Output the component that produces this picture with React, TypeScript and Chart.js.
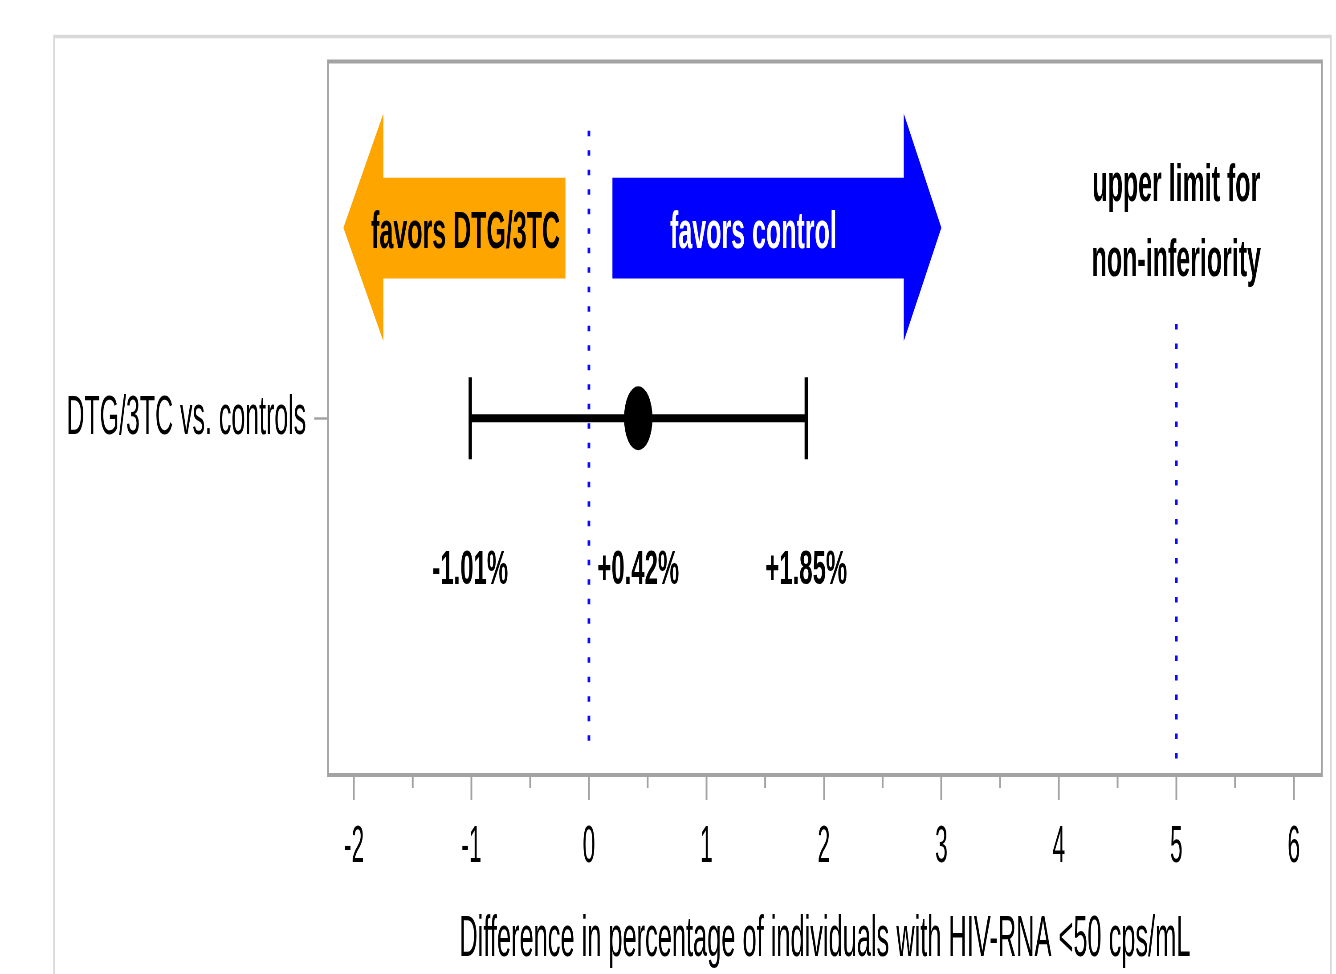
import React, { useEffect, useRef } from 'react';
import { Chart, registerables } from 'chart.js';

Chart.register(...registerables);

// ---------- data ----------
const rowLabels = ['DTG/3TC vs. controls'];
const pointEstimates = [0.42];
const ciLower = [-1.01];
const ciUpper = [1.85];
const noEffectValue = 0;
const nonInferiorityLimit = 5;
const xTickValues = [-2, -1.5, -1, -0.5, 0, 0.5, 1, 1.5, 2, 2.5, 3, 3.5, 4, 4.5, 5, 5.5, 6];
const xAxisTitle = 'Difference in percentage of individuals with HIV-RNA <50 cps/mL';
const arrowTexts = ['favors DTG/3TC', 'favors control'];
const limitTextLines = ['upper limit for', 'non-inferiority'];

// ---------- layout (internal canvas is wider, then squeezed horizontally) ----------
const OUT_W = 1336;
const OUT_H = 974;
const INT_W = 3000;
const SX = OUT_W / INT_W;
const ix = (displayX: number) => displayX / SX;

const FONT = '"Liberation Sans", Arial, Helvetica, sans-serif';
const GRAY = '#a3a3a3';

const fmtPct = (v: number) => `${v > 0 ? '+' : ''}${v.toFixed(2)}%`;

// arrow geometry (data units)
const yBodyTop = 0.837;
const yBodyBottom = 0.696;
const yHeadTop = 0.927;
const yHeadBottom = 0.608;
const yTip = 0.767;

export default function App() {
  const ref = useRef<HTMLCanvasElement | null>(null);

  useEffect(() => {
    document.body.style.margin = '0';
    document.body.style.overflow = 'hidden';
    const canvas = ref.current;
    if (!canvas) return;

    const rowY = rowLabels.map((_, i) => (i + 0.5) / rowLabels.length);

    const orangeArrow = [
      { x: -2.09, y: yTip },
      { x: -1.75, y: yHeadTop },
      { x: -1.75, y: yBodyTop },
      { x: -0.2, y: yBodyTop },
      { x: -0.2, y: yBodyBottom },
      { x: -1.75, y: yBodyBottom },
      { x: -1.75, y: yHeadBottom },
      { x: -2.09, y: yTip },
      { x: -0.2, y: yBodyBottom },
    ];
    const blueArrow = [
      { x: 0.2, y: yBodyTop },
      { x: 2.68, y: yBodyTop },
      { x: 2.68, y: yHeadTop },
      { x: 3.0, y: yTip },
      { x: 2.68, y: yHeadBottom },
      { x: 2.68, y: yBodyBottom },
      { x: 0.2, y: yBodyBottom },
      { x: 0.2, y: yBodyTop },
      { x: 3.0, y: yTip },
    ];

    const capHalf = 0.0575;
    const dotted = {
      borderColor: '#0a0aff',
      borderWidth: 6,
      borderDash: [5.5, 14],
      borderCapStyle: 'butt',
      pointRadius: 0,
      fill: false,
    };
    const datasets: any[] = [
      {
        data: orangeArrow,
        borderColor: 'rgba(0,0,0,0)',
        backgroundColor: '#FFA500',
        fill: 'shape',
        pointRadius: 0,
        tension: 0,
      },
      {
        data: blueArrow,
        borderColor: 'rgba(0,0,0,0)',
        backgroundColor: '#0000FF',
        fill: 'shape',
        pointRadius: 0,
        tension: 0,
      },
      {
        ...dotted,
        data: [
          { x: noEffectValue, y: 0.903 },
          { x: noEffectValue, y: 0.041 },
        ],
      },
      {
        ...dotted,
        data: [
          { x: nonInferiorityLimit, y: 0.632 },
          { x: nonInferiorityLimit, y: 0.02 },
        ],
      },
    ];

    rowLabels.forEach((_, i) => {
      const y = rowY[i];
      datasets.push({
        data: [
          { x: ciLower[i], y },
          { x: ciUpper[i], y },
        ],
        borderColor: '#000',
        borderWidth: 8,
        pointRadius: 0,
        fill: false,
      });
      [ciLower[i], ciUpper[i]].forEach((v) => {
        datasets.push({
          data: [
            { x: v, y: y - capHalf },
            { x: v, y: y + capHalf },
          ],
          borderColor: '#000',
          borderWidth: 7.5,
          borderCapStyle: 'butt',
          pointRadius: 0,
          fill: false,
        });
      });
      datasets.push({
        data: [{ x: pointEstimates[i], y }],
        showLine: false,
        pointRadius: 32,
        pointBackgroundColor: '#000',
        pointBorderWidth: 0,
        borderColor: '#000',
        fill: false,
      });
    });

    const drawText = (
      ctx: CanvasRenderingContext2D,
      text: string,
      x: number,
      y: number,
      size: number,
      color: string,
      stretch: number
    ) => {
      ctx.save();
      ctx.translate(x, y);
      ctx.scale(stretch, 1);
      ctx.font = `bold ${size}px ${FONT}`;
      ctx.fillStyle = color;
      ctx.textAlign = 'center';
      ctx.textBaseline = 'alphabetic';
      ctx.fillText(text, 0, 0);
      ctx.restore();
    };

    const framePlugin = {
      id: 'frames',
      beforeDraw(chart: any) {
        const { ctx, chartArea } = chart;
        ctx.save();
        ctx.strokeStyle = '#d9d9d9';
        ctx.lineWidth = 3.5;
        ctx.strokeRect(ix(54), 36.5, ix(1331) - ix(54), 1200);
        ctx.strokeStyle = GRAY;
        ctx.lineWidth = 4;
        ctx.strokeRect(chartArea.left, chartArea.top, chartArea.right - chartArea.left, chartArea.bottom - chartArea.top);
        // minor ticks
        const xs = chart.scales.x;
        ctx.lineWidth = 4;
        xTickValues
          .filter((v) => !Number.isInteger(v))
          .forEach((v) => {
            const px = xs.getPixelForValue(v);
            ctx.beginPath();
            ctx.moveTo(px, chartArea.bottom);
            ctx.lineTo(px, chartArea.bottom + 13);
            ctx.stroke();
          });
        ctx.restore();
      },
      afterDatasetsDraw(chart: any) {
        const { ctx } = chart;
        const xs = chart.scales.x;
        const ys = chart.scales.y;
        drawText(ctx, arrowTexts[0], xs.getPixelForValue(-1.05), ys.getPixelForValue(0.7386), 52, '#000', 1.08);
        drawText(ctx, arrowTexts[1], xs.getPixelForValue(1.4), ys.getPixelForValue(0.7386), 52, '#fff', 1.08);
        drawText(ctx, limitTextLines[0], xs.getPixelForValue(nonInferiorityLimit), ys.getPixelForValue(0.804), 51, '#000', 1.1);
        drawText(ctx, limitTextLines[1], xs.getPixelForValue(nonInferiorityLimit), ys.getPixelForValue(0.699), 51, '#000', 1.1);
        rowLabels.forEach((_, i) => {
          [ciLower[i], pointEstimates[i], ciUpper[i]].forEach((v) => {
            drawText(ctx, fmtPct(v), xs.getPixelForValue(v), ys.getPixelForValue(0.268), 48, '#000', 1.12);
          });
        });
      },
    };

    const chart = new Chart(canvas, {
      type: 'line',
      data: { datasets },
      options: {
        responsive: false,
        maintainAspectRatio: false,
        devicePixelRatio: 1,
        animation: false,
        events: [],
        layout: { padding: { left: 0, top: 61.5, right: INT_W - ix(1322), bottom: 0 } },
        plugins: {
          legend: { display: false },
          tooltip: { enabled: false },
        },
        scales: {
          x: {
            type: 'linear',
            min: -2.221,
            max: 6.238,
            afterBuildTicks: (scale: any) => {
              scale.ticks = xTickValues.map((v) => ({ value: v }));
            },
            afterFit: (scale: any) => {
              scale.height = OUT_H - 775;
            },
            border: { display: false },
            grid: {
              drawOnChartArea: false,
              drawTicks: true,
              tickLength: 25,
              tickWidth: 4,
              tickColor: (c: any) => (c.tick && Number.isInteger(c.tick.value) ? GRAY : 'rgba(0,0,0,0)'),
            },
            ticks: {
              autoSkip: false,
              maxRotation: 0,
              padding: 17,
              color: '#000',
              font: { family: FONT, size: 51 },
              callback: (v: any) => (Number.isInteger(v) ? String(v) : ''),
            },
            title: {
              display: true,
              text: xAxisTitle,
              color: '#000',
              font: { family: FONT, size: 57 },
              padding: { top: 0, bottom: 0 },
            },
          },
          y: {
            type: 'linear',
            min: 0,
            max: 1,
            afterBuildTicks: (scale: any) => {
              scale.ticks = rowY.map((v) => ({ value: v }));
            },
            afterFit: (scale: any) => {
              scale.width = ix(328);
            },
            border: { display: false },
            grid: {
              drawOnChartArea: false,
              tickLength: 31,
              tickWidth: 2.5,
              tickColor: GRAY,
            },
            ticks: {
              padding: 18,
              color: '#000',
              font: { family: FONT, size: 56 },
              callback: (v: any) => {
                const i = rowY.findIndex((r) => Math.abs(r - v) < 1e-9);
                return i >= 0 ? rowLabels[i] : '';
              },
            },
          },
        },
      },
      plugins: [framePlugin],
    } as any);

    return () => {
      chart.destroy();
    };
  }, []);

  return (
    <div style={{ width: OUT_W, height: OUT_H, background: '#fff' }}>
      <canvas
        ref={ref}
        width={INT_W}
        height={OUT_H}
        style={{ width: `${OUT_W}px`, height: `${OUT_H}px`, display: 'block' }}
      />
    </div>
  );
}
